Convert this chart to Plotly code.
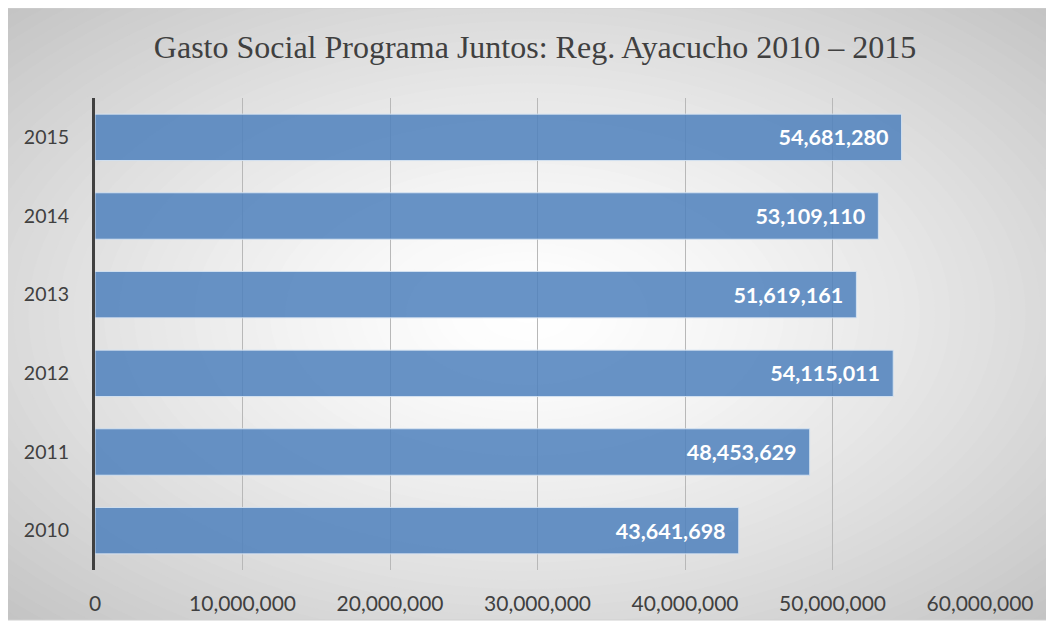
import plotly.graph_objects as go

years = ["2010", "2011", "2012", "2013", "2014", "2015"]
gasto = [43641698, 48453629, 54115011, 51619161, 53109110, 54681280]
x_ticks = [0, 10000000, 20000000, 30000000, 40000000, 50000000, 60000000]
x_tick_labels = ["0", "10,000,000", "20,000,000", "30,000,000", "40,000,000", "50,000,000", "60,000,000"]
title_text = "Gasto Social Programa Juntos: Reg. Ayacucho 2010 – 2015"

# page has an 8px body margin; figure pixel = screen pixel - 8
OFF = 8
W, H = 1046, 618
L, R, T, B = 95 - OFF, W - (980 - OFF), 98 - OFF, H - (570 - OFF)
pw, ph = W - L - R, H - T - B

def px(x):
    return (x - OFF - L) / pw

def py(y):
    return (H - B - (y - OFF)) / ph

shapes = []
# radial gradient background (style only), screen coords
fx0, fx1, fy0, fy1 = 6, 1048, 8, 620
cx, cy = (fx0 + fx1) / 2, (fy0 + fy1) / 2
hw, hh = (fx1 - fx0) / 2, (fy1 - fy0) / 2
N = 50
rmax = 1.45
for i in range(N):
    r = rmax * (1 - i / N)
    t = min(r / 1.414, 1.0)
    g = int(round(255 - (255 - 196) * (t ** 1.4)))
    col = f"rgb({g},{g},{g})"
    shapes.append(dict(type="circle", xref="paper", yref="paper",
                       x0=px(cx - r * hw), x1=px(cx + r * hw),
                       y0=py(cy + r * hh), y1=py(cy - r * hh),
                       fillcolor=col, line=dict(width=0), layer="below"))
big = 3000
for (a, b, c, d) in [(-big, fx0, -big, big), (fx1, big, -big, big),
                     (-big, big, -big, fy0), (-big, big, fy1, big)]:
    shapes.append(dict(type="rect", xref="paper", yref="paper",
                       x0=px(a), x1=px(b), y0=py(d), y1=py(c),
                       fillcolor="white", line=dict(width=0), layer="below"))
shapes.append(dict(type="rect", xref="paper", yref="paper",
                   x0=px(fx0), x1=px(fx1), y0=py(fy1), y1=py(fy0),
                   fillcolor="rgba(0,0,0,0)", line=dict(width=1, color="#d0d0d0"), layer="below"))

fig = go.Figure()
fig.add_trace(go.Bar(
    y=years, x=gasto, orientation="h",
    marker=dict(color="rgba(79,129,189,0.86)", line=dict(color="rgba(215,228,243,0.9)", width=1)),
    texttemplate="<b>%{x:,.0f}</b><span style='color:rgba(0,0,0,0)'>..</span>",
    textposition="inside", insidetextanchor="end",
    textfont=dict(family="Lato, Open Sans, sans-serif", size=21.5, color="white"),
    cliponaxis=False,
))

fig.update_layout(
    width=W, height=H,
    margin=dict(l=L, r=R, t=T, b=B),
    paper_bgcolor="white", plot_bgcolor="rgba(0,0,0,0)",
    bargap=0.41,
    showlegend=False,
    shapes=shapes,
    title=dict(text=title_text, x=px(535), xref="paper", xanchor="center",
               y=(H - (47 - OFF)) / H, yanchor="middle",
               font=dict(family="Liberation Serif, Times New Roman, serif", size=32, color="#404040")),
    xaxis=dict(range=[0, 60000000], tickvals=x_ticks, ticktext=x_tick_labels,
               showgrid=True, gridcolor="#b8b8b8", gridwidth=1, zeroline=False,
               showline=False, ticks="", ticklabelstandoff=19,
               tickfont=dict(family="Lato, Open Sans, sans-serif", size=21, color="#404040")),
    yaxis=dict(type="category", categoryorder="array", categoryarray=years,
               showgrid=False, zeroline=False, showline=True, linecolor="#404040", linewidth=3,
               ticks="", ticklabelstandoff=19,
               tickfont=dict(family="Lato, Open Sans, sans-serif", size=19.5, color="#404040")),
)

fig.write_html("out.html")
